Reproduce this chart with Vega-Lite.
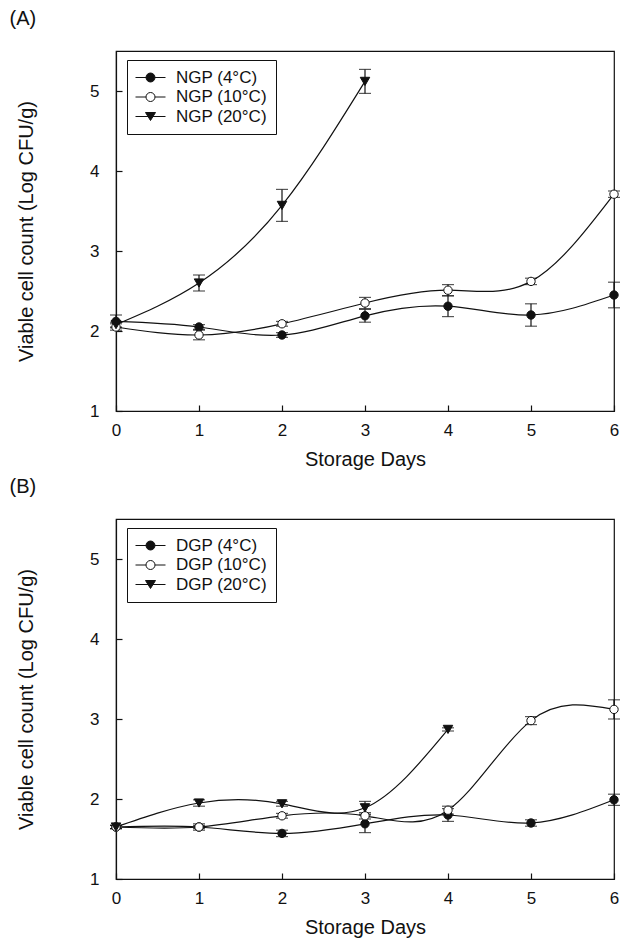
{
  "$schema": "https://vega.github.io/schema/vega-lite/v6.json",
  "padding": {"left": 8, "top": 8, "right": 5, "bottom": 5},
  "background": "white",
  "data": {"values": [
    {"panel": "A", "series": "NGP (4°C)", "temp": "4°C", "day": 0, "value": 2.12, "err": 0.08},
    {"panel": "A", "series": "NGP (4°C)", "temp": "4°C", "day": 1, "value": 2.05, "err": 0.03},
    {"panel": "A", "series": "NGP (4°C)", "temp": "4°C", "day": 2, "value": 1.95, "err": 0.03},
    {"panel": "A", "series": "NGP (4°C)", "temp": "4°C", "day": 3, "value": 2.19, "err": 0.08},
    {"panel": "A", "series": "NGP (4°C)", "temp": "4°C", "day": 4, "value": 2.31, "err": 0.13},
    {"panel": "A", "series": "NGP (4°C)", "temp": "4°C", "day": 5, "value": 2.2, "err": 0.14},
    {"panel": "A", "series": "NGP (4°C)", "temp": "4°C", "day": 6, "value": 2.45, "err": 0.16},
    {"panel": "A", "series": "NGP (10°C)", "temp": "10°C", "day": 0, "value": 2.05, "err": 0.04},
    {"panel": "A", "series": "NGP (10°C)", "temp": "10°C", "day": 1, "value": 1.95, "err": 0.06},
    {"panel": "A", "series": "NGP (10°C)", "temp": "10°C", "day": 2, "value": 2.09, "err": 0.03},
    {"panel": "A", "series": "NGP (10°C)", "temp": "10°C", "day": 3, "value": 2.35, "err": 0.07},
    {"panel": "A", "series": "NGP (10°C)", "temp": "10°C", "day": 4, "value": 2.51, "err": 0.07},
    {"panel": "A", "series": "NGP (10°C)", "temp": "10°C", "day": 5, "value": 2.62, "err": 0.04},
    {"panel": "A", "series": "NGP (10°C)", "temp": "10°C", "day": 6, "value": 3.71, "err": 0.04},
    {"panel": "A", "series": "NGP (20°C)", "temp": "20°C", "day": 0, "value": 2.08, "err": 0.03},
    {"panel": "A", "series": "NGP (20°C)", "temp": "20°C", "day": 1, "value": 2.6, "err": 0.1},
    {"panel": "A", "series": "NGP (20°C)", "temp": "20°C", "day": 2, "value": 3.57, "err": 0.2},
    {"panel": "A", "series": "NGP (20°C)", "temp": "20°C", "day": 3, "value": 5.12, "err": 0.15},
    {"panel": "B", "series": "DGP (4°C)", "temp": "4°C", "day": 0, "value": 1.65, "err": 0.02},
    {"panel": "B", "series": "DGP (4°C)", "temp": "4°C", "day": 1, "value": 1.65, "err": 0.02},
    {"panel": "B", "series": "DGP (4°C)", "temp": "4°C", "day": 2, "value": 1.57, "err": 0.04},
    {"panel": "B", "series": "DGP (4°C)", "temp": "4°C", "day": 3, "value": 1.69, "err": 0.11},
    {"panel": "B", "series": "DGP (4°C)", "temp": "4°C", "day": 4, "value": 1.8, "err": 0.08},
    {"panel": "B", "series": "DGP (4°C)", "temp": "4°C", "day": 5, "value": 1.7, "err": 0.04},
    {"panel": "B", "series": "DGP (4°C)", "temp": "4°C", "day": 6, "value": 1.99, "err": 0.07},
    {"panel": "B", "series": "DGP (10°C)", "temp": "10°C", "day": 0, "value": 1.65, "err": 0.02},
    {"panel": "B", "series": "DGP (10°C)", "temp": "10°C", "day": 1, "value": 1.65, "err": 0.04},
    {"panel": "B", "series": "DGP (10°C)", "temp": "10°C", "day": 2, "value": 1.79, "err": 0.03},
    {"panel": "B", "series": "DGP (10°C)", "temp": "10°C", "day": 3, "value": 1.79, "err": 0.04},
    {"panel": "B", "series": "DGP (10°C)", "temp": "10°C", "day": 4, "value": 1.86, "err": 0.05},
    {"panel": "B", "series": "DGP (10°C)", "temp": "10°C", "day": 5, "value": 2.98, "err": 0.05},
    {"panel": "B", "series": "DGP (10°C)", "temp": "10°C", "day": 6, "value": 3.12, "err": 0.12},
    {"panel": "B", "series": "DGP (20°C)", "temp": "20°C", "day": 0, "value": 1.65, "err": 0.02},
    {"panel": "B", "series": "DGP (20°C)", "temp": "20°C", "day": 1, "value": 1.95, "err": 0.04},
    {"panel": "B", "series": "DGP (20°C)", "temp": "20°C", "day": 2, "value": 1.94, "err": 0.03},
    {"panel": "B", "series": "DGP (20°C)", "temp": "20°C", "day": 3, "value": 1.89, "err": 0.08},
    {"panel": "B", "series": "DGP (20°C)", "temp": "20°C", "day": 4, "value": 2.87, "err": 0.02}
  ]},
  "resolve": {"scale": {"fill": "independent", "shape": "independent"}},
  "spacing": 6,
  "vconcat": [
    {
      "title": {"text": "(A)"},
      "width": 498,
      "height": 360,
      "transform": [{"filter": "datum.panel === 'A'"}],
      "layer": [
        {
          "mark": {"type": "line", "interpolate": "natural", "color": "#111", "strokeWidth": 1.2},
          "encoding": {
            "x": {"field": "day", "type": "quantitative", "title": "Storage Days", "scale": {"domain": [0, 6], "nice": false}, "axis": {"values": [0, 1, 2, 3, 4, 5, 6], "format": "d"}},
            "y": {"field": "value", "type": "quantitative", "title": "Viable cell count (Log CFU/g)", "scale": {"domain": [1, 5.5], "nice": false, "zero": false}, "axis": {"values": [1, 2, 3, 4, 5], "format": "d"}},
            "detail": {"field": "series"}
          }
        },
        {
          "mark": {"type": "errorbar", "ticks": {"size": 12}, "color": "#111", "thickness": 1.2},
          "encoding": {
            "x": {"field": "day", "type": "quantitative", "title": "Storage Days"},
            "y": {"field": "value", "type": "quantitative", "title": "Viable cell count (Log CFU/g)"},
            "yError": {"field": "err"},
            "detail": {"field": "series"}
          }
        },
        {
          "mark": {"type": "point", "filled": true, "stroke": "#111", "strokeWidth": 1, "opacity": 1},
          "encoding": {
            "x": {"field": "day", "type": "quantitative", "title": "Storage Days"},
            "y": {"field": "value", "type": "quantitative", "title": "Viable cell count (Log CFU/g)"},
            "shape": {"condition": {"test": "datum.temp === '20°C'", "value": "triangle-down"}, "value": "circle"},
            "fill": {"condition": {"test": "datum.temp === '10°C'", "value": "white"}, "value": "#111"},
            "size": {"condition": {"test": "datum.temp === '20°C'", "value": 90}, "value": 70}
          }
        },
        {
          "mark": {"type": "point", "filled": true, "opacity": 0, "stroke": "#111", "strokeWidth": 1},
          "encoding": {
            "x": {"field": "day", "type": "quantitative", "title": "Storage Days"},
            "y": {"field": "value", "type": "quantitative", "title": "Viable cell count (Log CFU/g)"},
            "fill": {"field": "series", "type": "nominal", "scale": {"domain": ["NGP (4°C)", "NGP (10°C)", "NGP (20°C)"], "range": ["#111", "white", "#111"]}, "legend": {"title": null, "orient": "none", "legendX": 11, "legendY": 9, "encode": {"symbols": {"update": {"stroke": {"value": "#111"}, "strokeWidth": {"value": 1}, "opacity": {"value": 1}}}}}},
            "shape": {"field": "series", "type": "nominal", "scale": {"domain": ["NGP (4°C)", "NGP (10°C)", "NGP (20°C)"], "range": ["M-3,0H-0.9M0.9,0H3M0.9,0A0.9,0.9,0,1,1,-0.9,0A0.9,0.9,0,1,1,0.9,0Z", "M-3,0H-0.9M0.9,0H3M0.9,0A0.9,0.9,0,1,1,-0.9,0A0.9,0.9,0,1,1,0.9,0Z", "M-3,0H3M-1,-0.8H1L0,0.8Z"]}, "legend": {"title": null, "orient": "none", "legendX": 11, "legendY": 9, "encode": {"symbols": {"update": {"stroke": {"value": "#111"}, "strokeWidth": {"value": 1}, "opacity": {"value": 1}}}}}}
          }
        }
      ]
    },
    {
      "title": {"text": "(B)"},
      "width": 498,
      "height": 360,
      "transform": [{"filter": "datum.panel === 'B'"}],
      "layer": [
        {
          "mark": {"type": "line", "interpolate": "natural", "color": "#111", "strokeWidth": 1.2},
          "encoding": {
            "x": {"field": "day", "type": "quantitative", "title": "Storage Days", "scale": {"domain": [0, 6], "nice": false}, "axis": {"values": [0, 1, 2, 3, 4, 5, 6], "format": "d"}},
            "y": {"field": "value", "type": "quantitative", "title": "Viable cell count (Log CFU/g)", "scale": {"domain": [1, 5.5], "nice": false, "zero": false}, "axis": {"values": [1, 2, 3, 4, 5], "format": "d"}},
            "detail": {"field": "series"}
          }
        },
        {
          "mark": {"type": "errorbar", "ticks": {"size": 12}, "color": "#111", "thickness": 1.2},
          "encoding": {
            "x": {"field": "day", "type": "quantitative", "title": "Storage Days"},
            "y": {"field": "value", "type": "quantitative", "title": "Viable cell count (Log CFU/g)"},
            "yError": {"field": "err"},
            "detail": {"field": "series"}
          }
        },
        {
          "mark": {"type": "point", "filled": true, "stroke": "#111", "strokeWidth": 1, "opacity": 1},
          "encoding": {
            "x": {"field": "day", "type": "quantitative", "title": "Storage Days"},
            "y": {"field": "value", "type": "quantitative", "title": "Viable cell count (Log CFU/g)"},
            "shape": {"condition": {"test": "datum.temp === '20°C'", "value": "triangle-down"}, "value": "circle"},
            "fill": {"condition": {"test": "datum.temp === '10°C'", "value": "white"}, "value": "#111"},
            "size": {"condition": {"test": "datum.temp === '20°C'", "value": 90}, "value": 70}
          }
        },
        {
          "mark": {"type": "point", "filled": true, "opacity": 0, "stroke": "#111", "strokeWidth": 1},
          "encoding": {
            "x": {"field": "day", "type": "quantitative", "title": "Storage Days"},
            "y": {"field": "value", "type": "quantitative", "title": "Viable cell count (Log CFU/g)"},
            "fill": {"field": "series", "type": "nominal", "scale": {"domain": ["DGP (4°C)", "DGP (10°C)", "DGP (20°C)"], "range": ["#111", "white", "#111"]}, "legend": {"title": null, "orient": "none", "legendX": 11, "legendY": 9, "encode": {"symbols": {"update": {"stroke": {"value": "#111"}, "strokeWidth": {"value": 1}, "opacity": {"value": 1}}}}}},
            "shape": {"field": "series", "type": "nominal", "scale": {"domain": ["DGP (4°C)", "DGP (10°C)", "DGP (20°C)"], "range": ["M-3,0H-0.9M0.9,0H3M0.9,0A0.9,0.9,0,1,1,-0.9,0A0.9,0.9,0,1,1,0.9,0Z", "M-3,0H-0.9M0.9,0H3M0.9,0A0.9,0.9,0,1,1,-0.9,0A0.9,0.9,0,1,1,0.9,0Z", "M-3,0H3M-1,-0.8H1L0,0.8Z"]}, "legend": {"title": null, "orient": "none", "legendX": 11, "legendY": 9, "encode": {"symbols": {"update": {"stroke": {"value": "#111"}, "strokeWidth": {"value": 1}, "opacity": {"value": 1}}}}}}
          }
        }
      ]
    }
  ],
  "config": {
    "font": "Liberation Sans",
    "view": {"stroke": "#111", "strokeWidth": 1.2},
    "title": {"anchor": "start", "frame": "bounds", "fontSize": 20, "fontWeight": "normal", "color": "#111", "offset": 22, "dx": -7},
    "axis": {"grid": false, "domainColor": "#111", "domainWidth": 1.2, "tickColor": "#111", "tickWidth": 1.2, "tickSize": -6, "labelColor": "#111", "labelFontSize": 17, "labelFlush": false, "titleColor": "#111", "titleFontSize": 20, "titleFontWeight": "normal"},
    "axisX": {"labelPadding": 17, "titlePadding": 11},
    "axisY": {"labelPadding": 23, "titlePadding": 53},
    "legend": {"strokeColor": "#111", "padding": 9, "symbolSize": 100, "symbolOffset": 6, "symbolStrokeColor": "#111", "symbolStrokeWidth": 1, "symbolOpacity": 1, "labelFontSize": 17, "labelColor": "#111", "labelOffset": 17, "rowPadding": 1.5, "fillColor": "white"}
  }
}
